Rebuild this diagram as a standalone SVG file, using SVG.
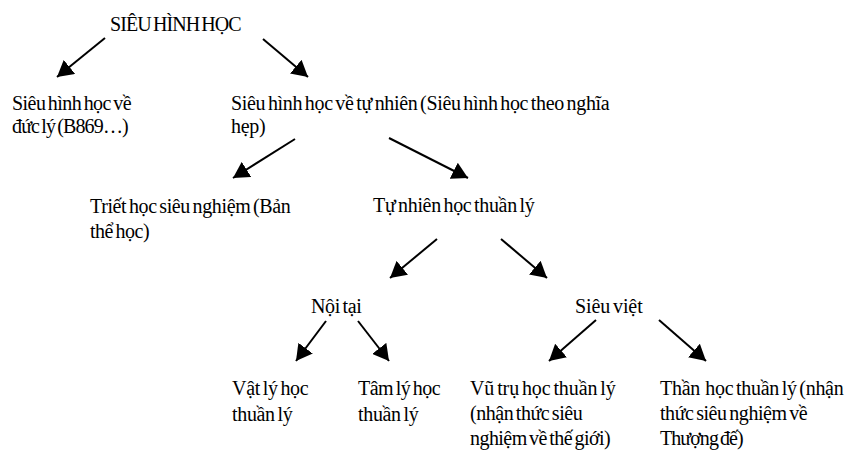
<svg xmlns="http://www.w3.org/2000/svg" width="845" height="455" viewBox="0 0 845 455">
<defs>
<style>
text{font-family:"Liberation Serif","Times New Roman",serif;font-size:20px;fill:#000;letter-spacing:-0.7px;word-spacing:-2px}
.c line{stroke:#000;stroke-width:2;marker-end:url(#ah)}
</style>
<marker id="ah" viewBox="0 0 8 9" refX="8" refY="4.5" markerWidth="8" markerHeight="9" orient="auto" markerUnits="strokeWidth">
<path d="M0,0 L8,4.5 L0,9 z" fill="#000"/>
</marker>
</defs>
<rect width="845" height="455" fill="#fff"/>
<g id="root"><text x="110" y="31" textLength="131">SIÊU HÌNH HỌC</text></g>
<g id="duc-ly"><text x="12" y="110" textLength="119">Siêu hình học về</text><text x="12" y="133" textLength="116">đức lý (B869…)</text></g>
<g id="tu-nhien"><text x="231" y="110" textLength="378">Siêu hình học về tự nhiên (Siêu hình học theo nghĩa</text><text x="231" y="133" textLength="34">hẹp)</text></g>
<g id="triet-hoc"><text x="90" y="213" textLength="200">Triết học siêu nghiệm (Bản</text><text x="90" y="238" textLength="59">thể học)</text></g>
<g id="tu-nhien-hoc"><text x="373" y="212" textLength="161">Tự nhiên học thuần lý</text></g>
<g id="noi-tai"><text x="311" y="313" textLength="50">Nội tại</text></g>
<g id="sieu-viet"><text x="575" y="313" textLength="67">Siêu việt</text></g>
<g id="vat-ly"><text x="232" y="395" textLength="76">Vật lý học</text><text x="232" y="421" textLength="60">thuần lý</text></g>
<g id="tam-ly"><text x="358" y="395" textLength="82">Tâm lý học</text><text x="358" y="421" textLength="60">thuần lý</text></g>
<g id="vu-tru"><text x="470" y="395" textLength="145">Vũ trụ học thuần lý</text><text x="470" y="420" textLength="112">(nhận thức siêu</text><text x="470" y="445" textLength="140">nghiệm về thế giới)</text></g>
<g id="than-hoc"><text x="660" y="395" textLength="183" xml:space="preserve">Thần  học thuần lý (nhận</text><text x="660" y="420" textLength="147">thức siêu nghiệm về</text><text x="660" y="445" textLength="83">Thượng đế)</text></g>
<g id="connectors" class="c">
<line x1="105" y1="38" x2="57" y2="77"/>
<line x1="263" y1="39" x2="308" y2="77"/>
<line x1="295" y1="139" x2="233" y2="178"/>
<line x1="389" y1="138" x2="468" y2="178"/>
<line x1="437" y1="239" x2="390" y2="278"/>
<line x1="501" y1="239" x2="547" y2="278"/>
<line x1="326" y1="321" x2="296" y2="361"/>
<line x1="358" y1="321" x2="389" y2="361"/>
<line x1="596" y1="320" x2="549" y2="361"/>
<line x1="659" y1="320" x2="706" y2="361"/>
</g>
</svg>
